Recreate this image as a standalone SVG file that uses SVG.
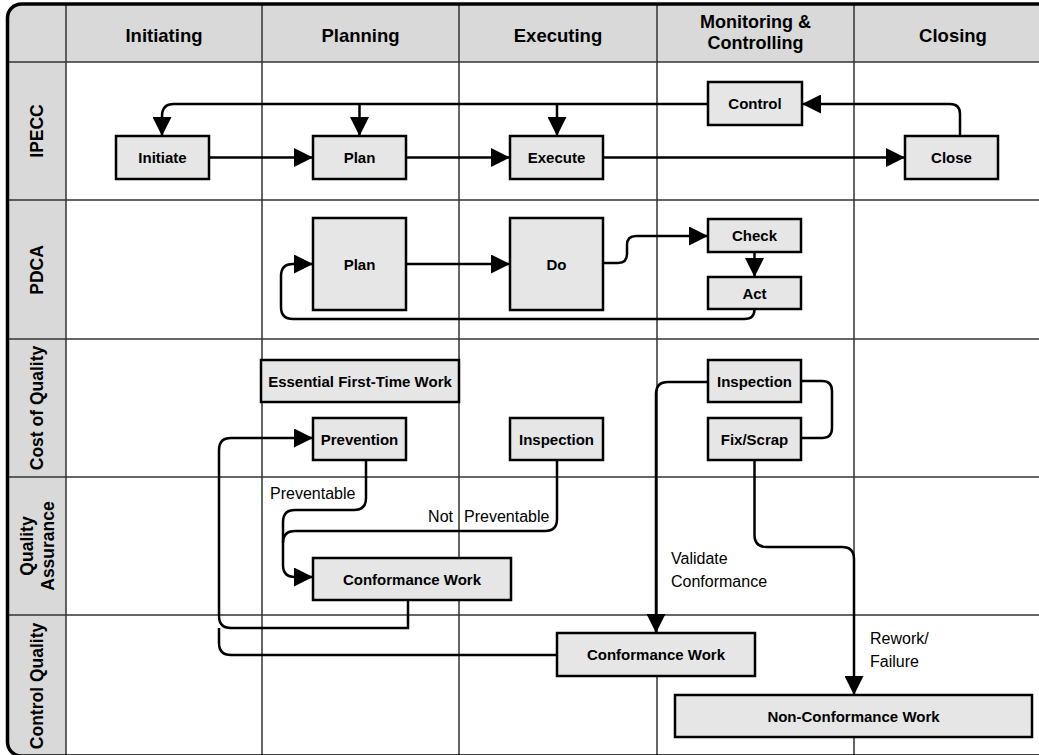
<svg xmlns="http://www.w3.org/2000/svg" width="1039" height="755" viewBox="0 0 1039 755">
<style>
.grid{stroke:#333;stroke-width:1.5;fill:none}
.node rect{fill:#e6e6e6;stroke:#000;stroke-width:2.5}
.node text{font-family:"Liberation Sans",Arial,sans-serif;font-weight:bold;font-size:15px;text-anchor:middle;fill:#000}
.hdr{font-family:"Liberation Sans",Arial,sans-serif;font-weight:bold;font-size:18.5px;text-anchor:middle;fill:#000}
.rh{font-family:"Liberation Sans",Arial,sans-serif;font-weight:bold;font-size:17.5px;text-anchor:middle;fill:#000}
.lbl{font-family:"Liberation Sans",Arial,sans-serif;font-size:16px;fill:#000}
.conn path{fill:none;stroke:#000;stroke-width:2.5}
.arr{marker-end:url(#ah)}
</style>
<defs>
<marker id="ah" markerUnits="userSpaceOnUse" markerWidth="19" markerHeight="19" refX="19" refY="9.5" orient="auto">
<path d="M0,0 L19,9.5 L0,19 Z" fill="#000"/>
</marker>
</defs>
<g id="frame">
<rect x="7.5" y="4" width="1100" height="752" rx="14" fill="#d9d9d9"/>
<rect x="66" y="62" width="1000" height="700" fill="#fff"/>
<g class="grid">
<line x1="8" y1="62" x2="1039" y2="62"/>
<line x1="8" y1="200" x2="1039" y2="200"/>
<line x1="8" y1="339" x2="1039" y2="339"/>
<line x1="8" y1="477" x2="1039" y2="477"/>
<line x1="8" y1="615" x2="1039" y2="615"/>
<line x1="66" y1="4" x2="66" y2="755"/>
<line x1="262" y1="4" x2="262" y2="755"/>
<line x1="459" y1="4" x2="459" y2="755"/>
<line x1="657" y1="4" x2="657" y2="755"/>
<line x1="854" y1="4" x2="854" y2="755"/>
</g>
<rect x="7.5" y="4" width="1100" height="752" rx="14" fill="none" stroke="#000" stroke-width="3.5"/>
</g>
<g id="headers">
<text class="hdr" x="164" y="42">Initiating</text>
<text class="hdr" x="360.5" y="42">Planning</text>
<text class="hdr" x="558" y="42">Executing</text>
<text class="hdr" x="755.5" y="28" style="font-size:18px">Monitoring &amp;</text>
<text class="hdr" x="755.5" y="49" style="font-size:18px">Controlling</text>
<text class="hdr" x="953" y="42">Closing</text>
</g>
<g id="rowheaders">
<text class="rh" transform="translate(43,131) rotate(-90)">IPECC</text>
<text class="rh" transform="translate(43,270) rotate(-90)">PDCA</text>
<text class="rh" transform="translate(43,408) rotate(-90)">Cost of Quality</text>
<text class="rh" transform="translate(33,546) rotate(-90)">Quality</text>
<text class="rh" transform="translate(54,546) rotate(-90)">Assurance</text>
<text class="rh" transform="translate(43,686) rotate(-90)">Control Quality</text>
</g>
<g id="connectors" class="conn">
<path class="arr" d="M209,157.5 H313"/>
<path class="arr" d="M406,157.5 H510"/>
<path class="arr" d="M603,157.5 H905"/>
<path class="arr" d="M960,136 V114 Q960,104 950,104 H802"/>
<path class="arr" d="M708,104 H174 Q162,104 162,116 V136"/>
<path class="arr" d="M359.5,104 V136"/>
<path class="arr" d="M557,104 V136"/>
<path class="arr" d="M406,264 H510"/>
<path class="arr" d="M603,263 H618 Q627,263 627,254 V245 Q627,236 636,236 H708"/>
<path class="arr" d="M754.5,252 V277"/>
<path class="arr" d="M754.5,309 Q754.5,319 744.5,319 H293 Q281,319 281,307 V276 Q281,264 293,264 H313"/>
<path d="M801,381 H822 Q832,381 832,391 V428 Q832,438 822,438 H801"/>
<path class="arr" d="M708,382 H668 Q656,382 656,394 V633"/>
<path class="arr" d="M754.5,460 V535 Q754.5,547 766.5,547 H842 Q854,547 854,559 V695"/>
<path class="arr" d="M366,460 V498 Q366,510 354,510 H295 Q283,510 283,522 V565 Q283,577 295,577 H313"/>
<path d="M557,460 V519 Q557,531 545,531 H295 Q283,531 283,543"/>
<path class="arr" d="M408,600 V628 H231 Q219,628 219,616 V450 Q219,438 231,438 H313"/>
<path d="M557,655 H231 Q219,655 219,643 V628"/>
</g>
<g id="labels">
<text class="lbl" x="270" y="499">Preventable</text>
<text class="lbl" x="453" y="522" text-anchor="end">Not</text>
<text class="lbl" x="464" y="522">Preventable</text>
<text class="lbl" x="671" y="564">Validate</text>
<text class="lbl" x="671" y="587">Conformance</text>
<text class="lbl" x="870" y="644">Rework/</text>
<text class="lbl" x="870" y="667">Failure</text>
</g>
<g id="n-initiate" class="node"><rect x="116" y="136" width="93" height="43"/><text x="162.5" y="163">Initiate</text></g>
<g id="n-plan" class="node"><rect x="313" y="136" width="93" height="43"/><text x="359.5" y="163">Plan</text></g>
<g id="n-execute" class="node"><rect x="510" y="136" width="93" height="43"/><text x="556.5" y="163">Execute</text></g>
<g id="n-control" class="node"><rect x="708" y="82" width="94" height="43"/><text x="755" y="109">Control</text></g>
<g id="n-close" class="node"><rect x="905" y="136" width="93" height="43"/><text x="951.5" y="163">Close</text></g>
<g id="n-pdca-plan" class="node"><rect x="313" y="218" width="93" height="92"/><text x="359.5" y="269.5">Plan</text></g>
<g id="n-do" class="node"><rect x="510" y="218" width="93" height="92"/><text x="556.5" y="269.5">Do</text></g>
<g id="n-check" class="node"><rect x="708" y="219" width="93" height="33"/><text x="754.5" y="241">Check</text></g>
<g id="n-act" class="node"><rect x="708" y="277" width="93" height="32"/><text x="754.5" y="298.5">Act</text></g>
<g id="n-essential" class="node"><rect x="261" y="360" width="198" height="42"/><text x="360" y="386.5">Essential First-Time Work</text></g>
<g id="n-prevention" class="node"><rect x="313" y="418" width="93" height="42"/><text x="359.5" y="444.5">Prevention</text></g>
<g id="n-inspection1" class="node"><rect x="510" y="418" width="93" height="42"/><text x="556.5" y="444.5">Inspection</text></g>
<g id="n-inspection2" class="node"><rect x="708" y="360" width="93" height="42"/><text x="754.5" y="386.5">Inspection</text></g>
<g id="n-fixscrap" class="node"><rect x="708" y="418" width="93" height="42"/><text x="754.5" y="444.5">Fix/Scrap</text></g>
<g id="n-conformance-qa" class="node"><rect x="313" y="558" width="198" height="42"/><text x="412" y="584.5">Conformance Work</text></g>
<g id="n-conformance-cq" class="node"><rect x="557" y="633" width="198" height="43"/><text x="656" y="660">Conformance Work</text></g>
<g id="n-nonconformance" class="node"><rect x="675" y="695" width="357" height="42"/><text x="853.5" y="721.5">Non-Conformance Work</text></g>
</svg>
